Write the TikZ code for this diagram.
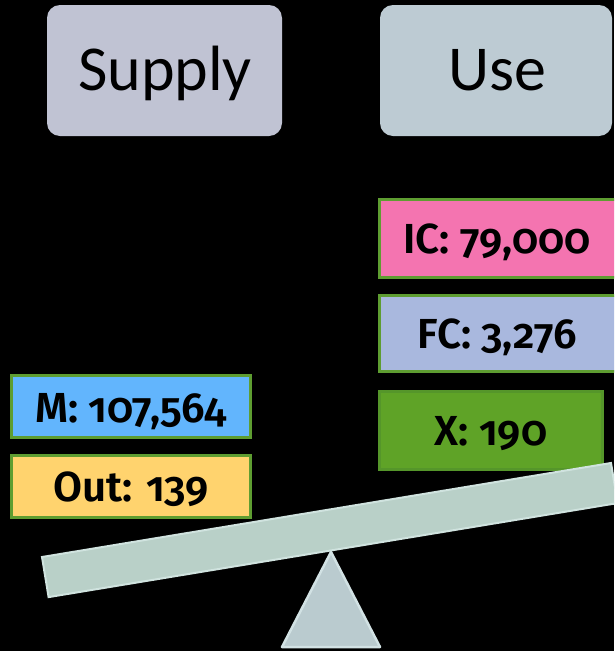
\documentclass[tikz,border=0pt]{standalone}
\usepackage{fontspec}
\setmainfont{Carlito}
\newfontfamily\labfont{Fira Sans SemiBold}[Numbers={OldStyle,Proportional}]
\usetikzlibrary{calc}
\definecolor{supplyc}{HTML}{C0C3D3}
\definecolor{usec}{HTML}{BDCBD3}
\definecolor{mc}{HTML}{62B5FD}
\definecolor{outc}{HTML}{FFD36E}
\definecolor{icc}{HTML}{F474B0}
\definecolor{fcc}{HTML}{A9B8DE}
\definecolor{xc}{HTML}{5FA327}
\definecolor{xb}{HTML}{55962A}
\definecolor{greenb}{HTML}{5E9D31}
\definecolor{beamc}{HTML}{B9D0C8}
\definecolor{beamb}{HTML}{D0E3DF}
\definecolor{tric}{HTML}{BACBCF}
\definecolor{trib}{HTML}{D2E2E4}
\tikzset{
  head/.style={rectangle, rounded corners=13pt, inner sep=0pt},
  headtext/.style={anchor=base, inner sep=0pt, font=\fontsize{64}{70}\selectfont},
  valbox/.style={rectangle, draw=greenb, line width=3pt, inner sep=0pt},
  valtext/.style={anchor=base, inner sep=0pt, font=\labfont\fontsize{42}{46}\selectfont},
}
\begin{document}
\begin{tikzpicture}[x=1pt,y=-1pt]
\fill[black] (0,0) rectangle (614,651);
\useasboundingbox (0,0) rectangle (614,651);
\clip (0,0) rectangle (614,651);
% header boxes
\node[head, fill=supplyc, minimum width=235pt, minimum height=131pt] (supply) at (164.5,70.5) {};
\node[headtext] (supplyt) at (165,90) {Supply};
\node[head, fill=usec, minimum width=232pt, minimum height=131pt] (use) at (496,70.5) {};
\node[headtext] (uset) at (497,90) {Use};
% value boxes
\node[valbox, fill=mc, minimum width=239pt, minimum height=62pt] (m) at (131,406.5) {};
\node[valtext] (mt) at (131,422) {M: 107,564};
\node[valbox, fill=outc, minimum width=239pt, minimum height=62pt] (out) at (131,486.5) {};
\node[valtext] (outt) at (131,501) {Out: 139};
\node[valbox, fill=icc, minimum width=238pt, minimum height=78pt] (ic) at (498.5,238.5) {};
\node[valtext] (ict) at (497,253) {IC: 79,000};
\node[valbox, fill=fcc, minimum width=238pt, minimum height=76pt] (fc) at (498.5,333.5) {};
\node[valtext] (fct) at (497,348) {FC: 3,276};
\node[valbox, draw=xb, fill=xc, minimum width=223pt, minimum height=78pt] (x) at (491,430.5) {};
\node[valtext] (xt) at (491,445) {X: 190};
% fulcrum
\coordinate (apex) at (331,552);
\coordinate (bl) at (282,647);
\coordinate (br) at (380,647);
\draw[fill=tric, draw=trib, line width=2.5pt, line join=round] (apex) -- (br) -- (bl) -- cycle;
% beam
\coordinate (b1) at (42,557);
\coordinate (b2) at (611,463);
\coordinate (b3) at (617.6,503.1);
\coordinate (b4) at (48.6,597.1);
\draw[fill=beamc, draw=beamb, line width=2pt] (b1) -- (b2) -- (b3) -- (b4) -- cycle;
\end{tikzpicture}
\end{document}
